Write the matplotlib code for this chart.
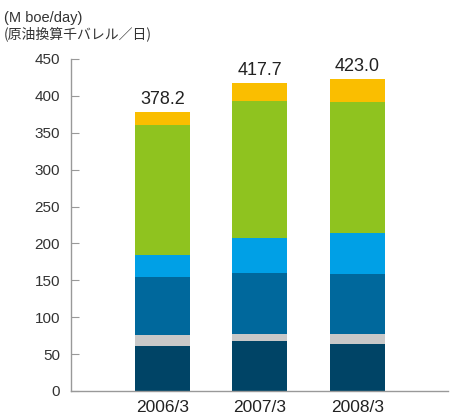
import matplotlib.pyplot as plt
import numpy as np

# production by segment, M boe/day (bottom to top)
years = ['2006/3', '2007/3', '2008/3']
seg_navy = [61, 68, 64]
seg_gray = [15, 9, 13]
seg_mid = [79, 83, 82]
seg_light = [29, 47, 55]
seg_green = [176, 186, 178]
seg_yellow = [18.2, 24.7, 31.0]
totals = [378.2, 417.7, 423.0]

colors = ['#004466', '#c8c8c8', '#00689c', '#00a0e6', '#8fc31f', '#fabe00']
segments = [seg_navy, seg_gray, seg_mid, seg_light, seg_green, seg_yellow]

plt.rcParams['font.family'] = ['Liberation Sans Narrow', 'Liberation Sans', 'DejaVu Sans']

fig = plt.figure(figsize=(4.53, 4.17), dpi=100)
ax = fig.add_axes([71 / 453, 26 / 417, (448 - 71) / 453, (391 - 59) / 417])

x = np.arange(len(years))
bottom = np.zeros(len(years))
for vals, c in zip(segments, colors):
    ax.bar(x, vals, width=0.565, bottom=bottom, color=c, linewidth=0)
    bottom += np.array(vals)

# totals above each bar
for xi, t in zip(x, totals):
    ax.text(xi, t + 5, f'{t:.1f}', ha='center', va='bottom', fontsize=13, color='#222222')

ax.set_xlim(-0.938, 2.93)
ax.set_ylim(0, 450)
ax.set_yticks(np.arange(0, 451, 50))
ax.set_xticks(x)
ax.set_xticklabels(years, fontsize=12.5, color='#222222')

for s in ['top', 'right']:
    ax.spines[s].set_visible(False)
for s in ['left', 'bottom']:
    ax.spines[s].set_color('#999999')
    ax.spines[s].set_linewidth(1.0)
ax.tick_params(axis='y', direction='in', length=6, color='#999999', labelsize=11,
               labelcolor='#333333', pad=8)
ax.tick_params(axis='x', length=0, pad=6.5)

# unit label, two lines
fig.text(4 / 453, 1 - 18 / 417, '(M boe/day)', fontsize=10.5, color='#333333', va='center')
fig.text(4 / 453, 1 - 34 / 417, '(原油換算千バレル／日)', fontsize=10, color='#333333', va='center',
         family=['Noto Sans CJK JP', 'DejaVu Sans'])

fig.savefig('out.png', dpi=100)
